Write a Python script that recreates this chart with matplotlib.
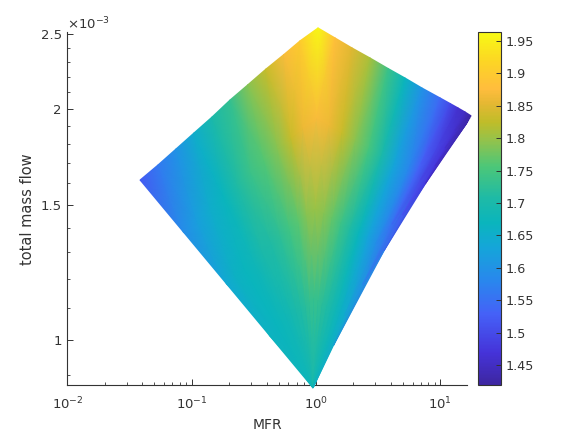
import matplotlib
matplotlib.use("Agg")
import matplotlib.pyplot as plt
import numpy as np
from matplotlib.colors import LinearSegmentedColormap, Normalize
from matplotlib.cm import ScalarMappable
from matplotlib.ticker import FixedLocator, FixedFormatter, LogLocator, NullFormatter

# outer end of each ray, all rays start at the bottom corner
mfr_end = [0.0384, 0.0536, 0.0748, 0.1043, 0.1457, 0.2033, 0.2838, 0.396, 0.553, 0.743, 1.038,
           1.422, 1.946, 2.716, 3.79, 5.20, 7.13, 9.95, 11.97, 13.87, 15.78, 17.66]
total_end = [1.615, 1.690, 1.773, 1.860, 1.951, 2.053, 2.150, 2.253, 2.354, 2.451, 2.548,
             2.473, 2.400, 2.329, 2.257, 2.193, 2.128, 2.066, 2.032, 2.005, 1.981, 1.958]
mfr_bottom = 0.946
total_bottom = 0.866
# right side is concave, rays there start part way out
ray_start = [0, 0, 0, 0, 0, 0, 0, 0, 0, 0, 0, 0, 0, 0, 0, 0, 0, 0, 0.15, 0.49, 0.74, 0.97]

# colour value along each ray
val_f0 = [1.68, 1.68, 1.68, 1.68, 1.68, 1.68, 1.68, 1.68, 1.68, 1.68, 1.68,
          1.68, 1.68, 1.68, 1.68, 1.68, 1.68, 1.68, 1.66, 1.565, 1.47, 1.42]
val_f25 = [1.665, 1.665, 1.67, 1.675, 1.68, 1.69, 1.70, 1.71, 1.72, 1.73, 1.735,
           1.73, 1.72, 1.71, 1.695, 1.68, 1.66, 1.645, 1.60, 1.52, 1.47, 1.42]
val_f50 = [1.64, 1.66, 1.67, 1.68, 1.70, 1.71, 1.725, 1.745, 1.765, 1.79, 1.80,
           1.79, 1.77, 1.74, 1.71, 1.67, 1.63, 1.59, 1.55, 1.50, 1.47, 1.42]
val_f75 = [1.59, 1.62, 1.65, 1.67, 1.71, 1.74, 1.76, 1.79, 1.83, 1.86, 1.87,
           1.86, 1.83, 1.79, 1.75, 1.70, 1.63, 1.58, 1.53, 1.49, 1.46, 1.42]
val_f100 = [1.52, 1.56, 1.60, 1.65, 1.70, 1.73, 1.79, 1.83, 1.87, 1.90, 1.96,
            1.88, 1.85, 1.81, 1.74, 1.67, 1.60, 1.54, 1.50, 1.46, 1.45, 1.42]
fractions = [0, 0.25, 0.5, 0.75, 1]

cbar_ticks = [1.45, 1.5, 1.55, 1.6, 1.65, 1.7, 1.75, 1.8, 1.85, 1.9, 1.95]
cbar_labels = ["1.45", "1.5", "1.55", "1.6", "1.65", "1.7", "1.75", "1.8", "1.85", "1.9", "1.95"]
y_ticks = [1e-3, 1.5e-3, 2e-3, 2.5e-3]
y_labels = ["1", "1.5", "2", "2.5"]
y_minor = [0.9e-3, 1.1e-3, 1.2e-3, 1.3e-3, 1.4e-3, 1.6e-3, 1.7e-3, 1.8e-3, 1.9e-3,
           2.1e-3, 2.2e-3, 2.3e-3, 2.4e-3]

parula = LinearSegmentedColormap.from_list("parula", [
    (0.00, (0.24, 0.15, 0.63)),
    (0.09, (0.27, 0.20, 0.85)),
    (0.20, (0.27, 0.38, 0.97)),
    (0.295, (0.16, 0.53, 0.93)),
    (0.39, (0.08, 0.65, 0.85)),
    (0.46, (0.04, 0.71, 0.74)),
    (0.53, (0.12, 0.73, 0.65)),
    (0.62, (0.30, 0.78, 0.47)),
    (0.70, (0.60, 0.76, 0.28)),
    (0.745, (0.75, 0.74, 0.16)),
    (0.80, (0.90, 0.72, 0.20)),
    (0.84, (1.00, 0.74, 0.24)),
    (0.92, (0.99, 0.84, 0.14)),
    (1.00, (0.97, 0.98, 0.08)),
])

plt.rcParams["font.family"] = "DejaVu Sans"
plt.rcParams["mathtext.default"] = "regular"
dark = "#333333"

W, H = 577, 433
fig = plt.figure(figsize=(W / 100, H / 100), dpi=100)
ax = fig.add_axes([67.4 / W, 1 - 385 / H, (466.7 - 67.4) / W, (385 - 32.5) / H])
cax = fig.add_axes([478.3 / W, 1 - 385 / H, 22.2 / W, (385 - 32) / H])

# build the fan in log space
lx0, ly0 = np.log10(mfr_bottom), np.log10(total_bottom * 1e-3)
lx1, ly1 = np.log10(mfr_end), np.log10(np.array(total_end) * 1e-3)
s = np.array(ray_start)[:, None]
f = s + np.array(fractions)[None, :] * (1 - s)
X = 10 ** (lx0 + f * (lx1[:, None] - lx0))
Y = 10 ** (ly0 + f * (ly1[:, None] - ly0))
C = np.array([val_f0, val_f25, val_f50, val_f75, val_f100]).T

norm = Normalize(1.4196, 1.9634)
ax.pcolormesh(X, Y, C, cmap=parula, norm=norm, shading="gouraud", clip_on=False, zorder=4)

ax.set_xscale("log")
ax.set_yscale("log")
ax.set_xlim(0.01, 16.3)
ax.set_ylim(0.8736e-3, 2.513e-3)
ax.spines["top"].set_visible(False)
ax.spines["right"].set_visible(False)
for sp in ax.spines.values():
    sp.set_color(dark)
    sp.set_linewidth(0.8)

ax.xaxis.set_major_locator(LogLocator(base=10, numticks=6))
ax.xaxis.set_minor_locator(LogLocator(base=10, subs=np.arange(2, 10), numticks=6))
ax.xaxis.set_minor_formatter(NullFormatter())
ax.yaxis.set_major_locator(FixedLocator(y_ticks))
ax.yaxis.set_major_formatter(FixedFormatter(y_labels))
ax.yaxis.set_minor_locator(FixedLocator(y_minor))
ax.yaxis.set_minor_formatter(NullFormatter())
ax.tick_params(which="major", direction="in", length=4, width=0.7, color=dark,
               labelcolor=dark, labelsize=9.5, pad=4)
ax.tick_params(axis="x", which="major", pad=8)
ax.tick_params(which="minor", direction="in", length=2, width=0.6, color=dark)
ax.set_xlabel("MFR", fontsize=10, color=dark, labelpad=4)
ax.set_ylabel("total mass flow", fontsize=10.5, color=dark, labelpad=4)
ax.text(0.0, 1.0, r"$\times 10^{-3}$", transform=ax.transAxes, fontsize=9.5, color=dark,
        ha="left", va="bottom")

cb = fig.colorbar(ScalarMappable(norm=norm, cmap=parula), cax=cax)
cb.set_ticks(cbar_ticks)
cb.set_ticklabels(cbar_labels)
cb.ax.minorticks_off()
cb.ax.tick_params(direction="in", length=3.5, width=0.7, color=dark, labelcolor=dark,
                  labelsize=9.2, pad=4)
cb.outline.set_edgecolor(dark)
cb.outline.set_linewidth(0.8)

fig.savefig("out.png", dpi=100)
